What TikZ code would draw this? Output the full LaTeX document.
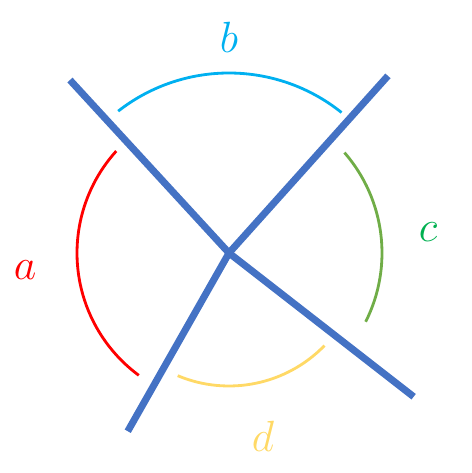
\documentclass[tikz,border=0pt]{standalone}
\usepackage{tikz}
\definecolor{rayblue}{HTML}{4472C4}
\definecolor{arcred}{HTML}{FF0000}
\definecolor{arccyan}{HTML}{00B0F0}
\definecolor{arcgreen}{HTML}{70AD47}
\definecolor{labgreen}{HTML}{00B050}
\definecolor{arcyellow}{HTML}{FFD966}
\begin{document}
\begin{tikzpicture}[x=0.02cm, y=0.02cm]
\tikzset{ray/.style={rayblue, line width=4pt}, anglearc/.style={line width=1.6pt}, lab/.style={anchor=base, font=\fontsize{26}{30}\selectfont}}
\useasboundingbox (0,0) rectangle (472,473);
\coordinate (O) at (229,220);
\coordinate (R1) at ([shift={(132.6:235)}]O);
\coordinate (R2) at ([shift={(48.1:238)}]O);
\coordinate (R3) at ([shift={(-37.9:234)}]O);
\coordinate (R4) at ([shift={(240.4:205)}]O);

\draw[ray] (R1) -- (O) -- (R3);
\draw[ray] (R2) -- (O) -- (R4);

\draw[anglearc, arcred] ([shift={(137.9:152)}]O) arc (137.9:233.6:152);
\draw[anglearc, arccyan] ([shift={(51.3:180)}]O) arc (51.3:128:180);
\draw[anglearc, arcgreen] ([shift={(-26.7:153)}]O) arc (-26.7:41:153);
\draw[anglearc, arcyellow] ([shift={(247.3:133)}]O) arc (247.3:315.9:133);

\node [lab, text=arcred] (La) at (25,193) {$a$};
\node [lab, text=arccyan] (Lb) at (229,420) {$b$};
\node [lab, text=labgreen] (Lc) at (428,231) {$c$};
\node [lab, text=arcyellow] (Ld) at (263,21) {$d$};
\end{tikzpicture}
\end{document}
